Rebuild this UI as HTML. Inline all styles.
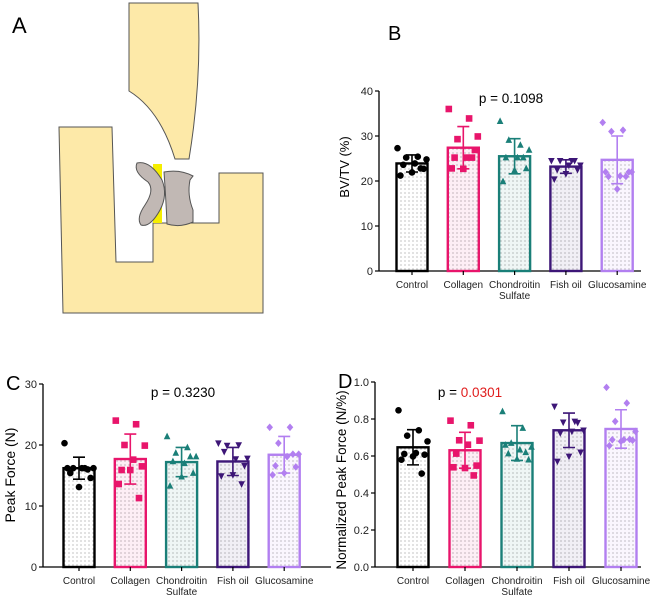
<!DOCTYPE html>
<html><head><meta charset="utf-8"><style>
body{margin:0;background:#fff;}
svg{display:block;font-family:"Liberation Sans",Arial,sans-serif;}
</style></head><body>
<svg id="fig" width="660" height="598" viewBox="0 0 660 598" xmlns="http://www.w3.org/2000/svg">
<defs>
<pattern id="dots" width="4" height="4" patternUnits="userSpaceOnUse"><rect width="4" height="4" fill="#fff"/><circle cx="1" cy="1" r="0.6" fill="#999"/></pattern>
</defs>
<g>
<text x="12" y="33" font-size="22">A</text>
<path d="M129,3 L198,3 Q202,80 189,159 L175,159 Q160,110 129,91 Z" fill="#fde9a8" stroke="#555" stroke-width="1"/>
<path d="M59,127 L112,127 L116,262 L153,262 L153,223 L219,223 L219,173 L263,173 L263,313 L63,313 Z" fill="#fde9a8" stroke="#555" stroke-width="1"/>
<rect x="153" y="164" width="9" height="59" fill="#f5ee00"/>
<path d="M137,163 Q150,160 162,180 Q168,195 160,210 Q150,228 141,225 Q136,218 145,205 Q155,190 148,182 Q133,172 137,163 Z" fill="#c1b8b4" stroke="#555" stroke-width="1"/>
<path d="M164,172 Q180,169 193,176 L190,180 Q187,195 193,210 L193,222 Q180,228 167,224 Q166,200 164,172 Z" fill="#c1b8b4" stroke="#555" stroke-width="1"/>
</g>
<g id="pB"></g>
<g id="pC"></g>
<g id="pD"></g>
</svg>
<script>
const categories=["Control","Collagen","Chondroitin|Sulfate","Fish oil","Glucosamine"];
const colors=["#000000","#e8156b","#1a7f78","#3d1677","#b27ff0"];
const shapes=["circle","square","triangle","tridown","diamond"];
// Panel B: BV/TV
const bMeans=[23.9,27.4,25.5,23.2,24.7];
const bSD=[1.9,4.7,3.9,1.5,5.3];
const bPoints=[[27.3,25.4,25.2,24.8,23.9,23.6,22.7,21.9,21.2,22.8],[36,33.9,29.3,29.9,25.2,25.2,26.9,22.7,22.8,25.2],[33.3,28,29.1,26.9,25.2,25.2,22.8,22.4,19.9,25.2],[24.5,24.5,24.5,23.5,23.5,22.5,22.5,21.6,20.4,24.5],[33,31.3,31,22,21.1,21,22,18.2,22,21]];
const bTicks=[0,10,20,30,40];
// Panel C: Peak force
const cMeans=[16.2,17.7,17.2,17.3,18.4];
const cSD=[1.8,4.1,2.4,2.3,3.0];
const cPoints=[[20.3,16.2,16.2,16.2,16.2,15.4,14.6,13.1,16.2,16.0],[24,23.4,20,19.9,17.6,15.9,16.5,15.9,13.6,11.3],[21.4,19.6,18.7,18.1,17.0,17.3,15.4,14.8,13.3,18.1],[20.3,20,19.9,17.8,17.7,18.9,16.6,15.1,14.9,13.6],[22.9,22.9,20.3,18.5,18.1,16.6,16.4,15.4,15.1,18.5]];
const cTicks=[0,10,20,30];
// Panel D: normalized peak force
const dMeans=[0.647,0.631,0.670,0.739,0.746];
const dSD=[0.095,0.097,0.094,0.093,0.104];
const dPoints=[[0.847,0.739,0.71,0.679,0.616,0.611,0.607,0.598,0.58,0.505],[0.791,0.766,0.685,0.683,0.661,0.613,0.548,0.535,0.539,0.495],[0.841,0.751,0.67,0.649,0.634,0.613,0.58,0.584,0.66,0.62],[0.868,0.787,0.782,0.739,0.733,0.724,0.62,0.598,0.571,0.78],[0.971,0.886,0.787,0.733,0.688,0.688,0.685,0.679,0.656,0.69]];
const dTicks=[0,0.2,0.4,0.6,0.8,1.0];

const NS="http://www.w3.org/2000/svg";
function mk(parent,tag,attrs){const e=document.createElementNS(NS,tag);for(const k in attrs)e.setAttribute(k,attrs[k]);parent.appendChild(e);return e;}

function panel(gid,cfg){
  const g=document.getElementById(gid);
  const y=v=>cfg.y0-(v-0)/(cfg.ymax)*(cfg.y0-cfg.y1);
  const bx=i=>cfg.c0+i*cfg.step;
  const ya=mk(g,"line",{x1:cfg.ax,y1:cfg.y1,x2:cfg.ax,y2:cfg.y0,stroke:"#000","stroke-width":1.3});
  
  
  const xa=mk(g,"line",{x1:cfg.ax,y1:cfg.y0,x2:cfg.xend,y2:cfg.y0,stroke:"#000","stroke-width":1.3});
  
  
  cfg.ticks.forEach(t=>{
    mk(g,"line",{x1:cfg.ax-4,y1:y(t),x2:cfg.ax,y2:y(t),stroke:"#000","stroke-width":1.2});
    const tl=mk(g,"text",{x:cfg.ax-6,y:y(t)+4,"font-size":11,"text-anchor":"end",fill:"#222"});
    tl.textContent=cfg.fmt(t);
    
    
  });
  const yl=mk(g,"text",{x:cfg.ylx,y:cfg.yly,"font-size":cfg.ylfs,"text-anchor":"middle",transform:`rotate(-90 ${cfg.ylx} ${cfg.yly})`});
  yl.textContent=cfg.ylabel;
  
  
  const bw=31;
  categories.forEach((c,i)=>{
    const cx=bx(i),col=colors[i];
    const bar=mk(g,"rect",{x:cx-bw/2,y:y(cfg.means[i]),width:bw,height:cfg.y0-y(cfg.means[i]),fill:"url(#dots)",stroke:col,"stroke-width":2.4});
    
    
    if(i>0){mk(g,"rect",{x:cx-bw/2+1.2,y:y(cfg.means[i])+1.2,width:bw-2.4,height:cfg.y0-y(cfg.means[i])-2.4,fill:col,opacity:0.07});}
    mk(g,"line",{x1:cx,y1:cfg.y0,x2:cx,y2:cfg.y0+4,stroke:"#000","stroke-width":1.2});
    const parts=c.split('|');
    parts.forEach((p,k)=>{
      const xl=mk(g,"text",{x:cx,y:cfg.y0+17+k*11,"font-size":10,"text-anchor":"middle",fill:"#222"});
      xl.textContent=p;
      
      
    });
    cfg.pts[i].forEach((v,k)=>{
      const off=((k*7)%11-5)*2.9;
      const px=cx+off,py=y(v),s=3.3;let e;
      if(shapes[i]=="circle")e=mk(g,"circle",{cx:px,cy:py,r:s,fill:col});
      else if(shapes[i]=="square")e=mk(g,"rect",{x:px-s,y:py-s,width:2*s,height:2*s,fill:col});
      else if(shapes[i]=="triangle")e=mk(g,"polygon",{points:`${px},${py-s-0.5} ${px-s},${py+s-0.5} ${px+s},${py+s-0.5}`,fill:col});
      else if(shapes[i]=="tridown")e=mk(g,"polygon",{points:`${px},${py+s+0.5} ${px-s},${py-s+0.5} ${px+s},${py-s+0.5}`,fill:col});
      else e=mk(g,"polygon",{points:`${px},${py-s-0.5} ${px+s},${py} ${px},${py+s+0.5} ${px-s},${py}`,fill:col});
      
      
    });
    const m=cfg.means[i],sd=cfg.sd[i];
    const eb=mk(g,"path",{d:`M${cx},${y(m+sd)}V${y(m-sd)}M${cx-6},${y(m+sd)}H${cx+6}M${cx-6},${y(m-sd)}H${cx+6}`,stroke:col,"stroke-width":1.6,fill:"none"});
    
    
  });
  const pl=mk(g,"text",{x:cfg.plx,y:cfg.ply,"font-size":13.5,"text-anchor":"middle"});
  pl.innerHTML=cfg.ptext;
  
  
  const lab=mk(g,"text",{x:cfg.lx,y:cfg.ly,"font-size":20});
  lab.textContent=cfg.label;
  
  
}
panel("pB",{ax:379,xend:641,y0:271,y1:91,ymax:40,c0:412,step:51.3,ticks:bTicks,fmt:t=>t,means:bMeans,sd:bSD,pts:bPoints,ylabel:"BV/TV (%)",ylfs:13,ylx:349,yly:167,plx:511,ply:103,ptext:"p = 0.1098",label:"B",lx:388,ly:40});
panel("pC",{ax:43,xend:331,y0:567,y1:384,ymax:30,c0:79,step:51.3,ticks:cTicks,fmt:t=>t,means:cMeans,sd:cSD,pts:cPoints,ylabel:"Peak  Force (N)",ylfs:14,ylx:15,yly:475,plx:183,ply:397,ptext:"p = 0.3230",label:"C",lx:6,ly:390});
panel("pD",{ax:375,xend:641,y0:567,y1:382,ymax:1.0,c0:413,step:52,ticks:dTicks,fmt:t=>t.toFixed(1),means:dMeans,sd:dSD,pts:dPoints,ylabel:"Normalized  Peak Force  (N/%)",ylfs:13.5,ylx:346,yly:480,plx:470,ply:397,ptext:'p = <tspan fill="#e01c1c">0.0301</tspan>',label:"D",lx:338,ly:388});
</script>
</body></html>
